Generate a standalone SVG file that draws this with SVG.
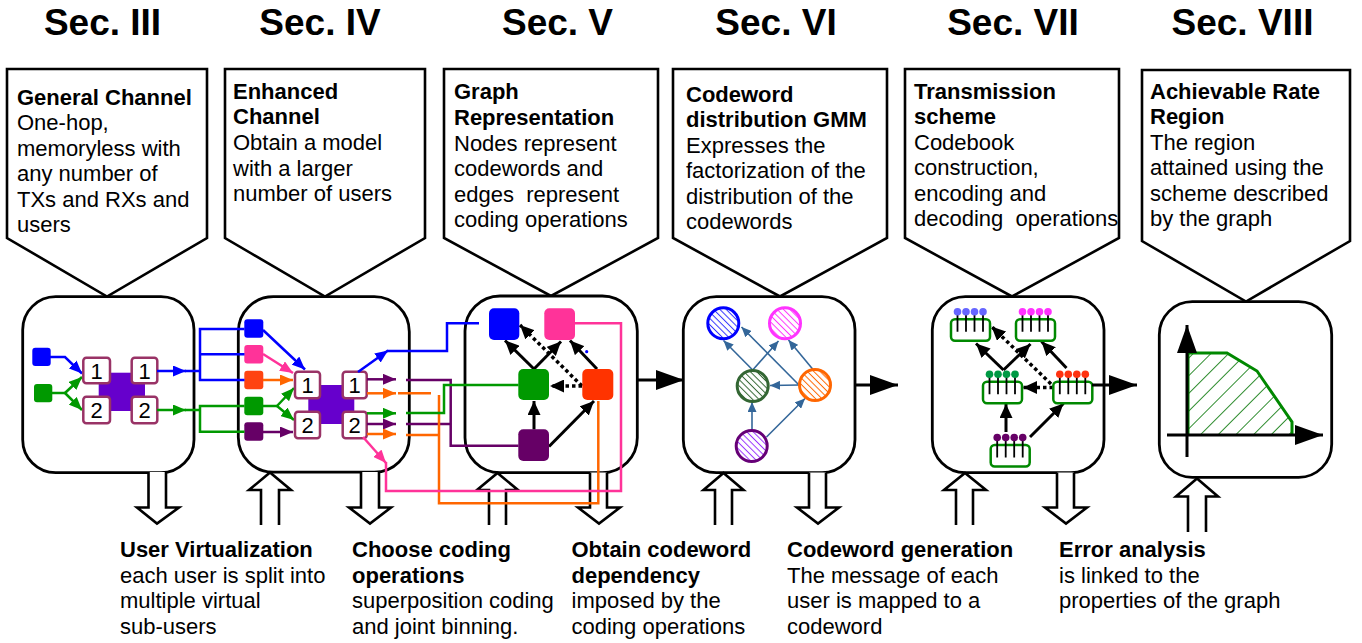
<svg xmlns="http://www.w3.org/2000/svg" xmlns:xlink="http://www.w3.org/1999/xlink" width="1362" height="643" viewBox="0 0 1362 643">
  <style>
    .title { font-family: "Liberation Sans", Arial, sans-serif; font-weight: bold; font-size: 37px; text-anchor: middle; fill: #000; }
    .t { font-family: "Liberation Sans", Arial, sans-serif; font-size: 22px; fill: #000; }
    .b { font-weight: bold; }
    .callout { fill: #fff; stroke: #000; stroke-width: 2.6; stroke-linejoin: miter; }
    .frame { fill: #fff; stroke: #000; stroke-width: 2.8; }
    .block { fill: #fff; stroke: #000; stroke-width: 2.6; stroke-linejoin: miter; }
    .num { fill: #fff; stroke: #993366; stroke-width: 2.5; }
    .numt { font-family: "Liberation Sans", Arial, sans-serif; font-size: 22px; text-anchor: middle; fill: #000; }
    .ln { fill: none; stroke-width: 2.5; stroke-linejoin: miter; }
    .blk { fill: none; stroke: #000; stroke-width: 3; }
    .dot { stroke-dasharray: 3.5 3; stroke-width: 3.5; }
    .gmm { fill: none; stroke: #336699; stroke-width: 1.6; }
  </style>
  <defs>
    <marker id="hBlue" markerUnits="userSpaceOnUse" markerWidth="14" markerHeight="11" refX="13" refY="5.5" orient="auto"><path d="M0,0 L13,5.5 L0,11 z" fill="#0000ff"/></marker>
    <marker id="hGreen" markerUnits="userSpaceOnUse" markerWidth="14" markerHeight="11" refX="13" refY="5.5" orient="auto"><path d="M0,0 L13,5.5 L0,11 z" fill="#009900"/></marker>
    <marker id="hPink" markerUnits="userSpaceOnUse" markerWidth="14" markerHeight="11" refX="13" refY="5.5" orient="auto"><path d="M0,0 L13,5.5 L0,11 z" fill="#ff3399"/></marker>
    <marker id="hOrange" markerUnits="userSpaceOnUse" markerWidth="14" markerHeight="11" refX="13" refY="5.5" orient="auto"><path d="M0,0 L13,5.5 L0,11 z" fill="#ff6600"/></marker>
    <marker id="hPurple" markerUnits="userSpaceOnUse" markerWidth="14" markerHeight="11" refX="13" refY="5.5" orient="auto"><path d="M0,0 L13,5.5 L0,11 z" fill="#660066"/></marker>
    <marker id="hBlack" markerUnits="userSpaceOnUse" markerWidth="15" markerHeight="13" refX="14" refY="6.5" orient="auto"><path d="M0,0 L14,6.5 L0,13 z" fill="#000"/></marker>
    <marker id="hSteel" markerUnits="userSpaceOnUse" markerWidth="11" markerHeight="9" refX="10" refY="4.5" orient="auto"><path d="M0,0 L10,4.5 L0,9 z" fill="#336699"/></marker>
    <marker id="hBig" markerUnits="userSpaceOnUse" markerWidth="29" markerHeight="20" refX="28" refY="10" orient="auto"><path d="M0,0 L28,10 L0,20 z" fill="#000"/></marker>

    <pattern id="hatchBlue" patternUnits="userSpaceOnUse" width="4.5" height="4.5" patternTransform="rotate(45)"><line x1="0" y1="2.25" x2="4.5" y2="2.25" stroke="#3333ff" stroke-width="1"/></pattern>
    <pattern id="hatchMagenta" patternUnits="userSpaceOnUse" width="4.5" height="4.5" patternTransform="rotate(45)"><line x1="0" y1="2.25" x2="4.5" y2="2.25" stroke="#ff33ff" stroke-width="1"/></pattern>
    <pattern id="hatchGreen" patternUnits="userSpaceOnUse" width="4.5" height="4.5" patternTransform="rotate(45)"><line x1="0" y1="2.25" x2="4.5" y2="2.25" stroke="#336633" stroke-width="1"/></pattern>
    <pattern id="hatchOrange" patternUnits="userSpaceOnUse" width="4.5" height="4.5" patternTransform="rotate(45)"><line x1="0" y1="2.25" x2="4.5" y2="2.25" stroke="#ff6600" stroke-width="1"/></pattern>
    <pattern id="hatchPurple" patternUnits="userSpaceOnUse" width="4.5" height="4.5" patternTransform="rotate(45)"><line x1="0" y1="2.25" x2="4.5" y2="2.25" stroke="#9933ff" stroke-width="1"/></pattern>
    <pattern id="hatchRegion" patternUnits="userSpaceOnUse" width="12.5" height="12.5" patternTransform="rotate(-45)"><line x1="0" y1="6.25" x2="12.5" y2="6.25" stroke="#2a8a2a" stroke-width="1"/></pattern>

    <!-- codebook: comb of codewords on a green frame; dot colour comes from the use element -->
    <g id="comb">
      <rect x="0" y="0" width="39" height="21.5" rx="4" fill="#fff" stroke="#008800" stroke-width="2.5"/>
      <path d="M6.5,-7.5 V12.5 M15,-7.5 V12.5 M23.5,-7.5 V12.5 M32,-7.5 V12.5" stroke="#000" stroke-width="1.8" fill="none"/>
      <g fill="currentColor">
        <circle cx="6.5" cy="-7.5" r="3.8"/>
        <circle cx="15" cy="-7.5" r="3.8"/>
        <circle cx="23.5" cy="-7.5" r="3.8"/>
        <circle cx="32" cy="-7.5" r="3.8"/>
      </g>
    </g>
  </defs>

  <rect width="1362" height="643" fill="#fff"/>

  <!-- section headings -->
  <g id="titles">
    <text class="title" x="102.5" y="35">Sec. III</text>
    <text class="title" x="320" y="35">Sec. IV</text>
    <text class="title" x="557.5" y="35">Sec. V</text>
    <text class="title" x="776" y="35">Sec. VI</text>
    <text class="title" x="1013" y="35">Sec. VII</text>
    <text class="title" x="1242.5" y="35">Sec. VIII</text>
  </g>

  <!-- description callouts -->
  <g id="callout-general-channel">
    <polygon class="callout" points="7,69 207,69 207,238 107,296.5 7,238"/>
    <text class="t" x="17"><tspan class="b" x="17" y="104.5">General Channel</tspan><tspan x="17" y="130">One-hop,</tspan><tspan x="17" y="155.5">memoryless with</tspan><tspan x="17" y="181">any number of</tspan><tspan x="17" y="206.5">TXs and RXs and</tspan><tspan x="17" y="232">users</tspan></text>
  </g>
  <g id="callout-enhanced-channel">
    <polygon class="callout" points="225,69 425,69 425,238 325,296.5 225,238"/>
    <text class="t"><tspan class="b" x="233" y="98.5">Enhanced</tspan><tspan class="b" x="233" y="124">Channel</tspan><tspan x="233" y="150">Obtain a model</tspan><tspan x="233" y="175.5">with a larger</tspan><tspan x="233" y="201">number of users</tspan></text>
  </g>
  <g id="callout-graph-representation">
    <polygon class="callout" points="444,69 658,69 658,238 551,296 444,238"/>
    <text class="t" xml:space="preserve"><tspan class="b" x="454" y="99">Graph</tspan><tspan class="b" x="454" y="125">Representation</tspan><tspan x="454" y="150.5">Nodes represent</tspan><tspan x="454" y="176">codewords and</tspan><tspan x="454" y="201.5">edges  represent</tspan><tspan x="454" y="227">coding operations</tspan></text>
  </g>
  <g id="callout-codeword-distribution">
    <polygon class="callout" points="673,69 887,69 887,238 780,296.5 673,238"/>
    <text class="t"><tspan class="b" x="686" y="101.5">Codeword</tspan><tspan class="b" x="686" y="127">distribution GMM</tspan><tspan x="686" y="152.5">Expresses the</tspan><tspan x="686" y="178">factorization of the</tspan><tspan x="686" y="203.5">distribution of the</tspan><tspan x="686" y="229">codewords</tspan></text>
  </g>
  <g id="callout-transmission-scheme">
    <polygon class="callout" points="905,69 1119,69 1119,238 1012,296.5 905,238"/>
    <text class="t" xml:space="preserve"><tspan class="b" x="914" y="98.5">Transmission</tspan><tspan class="b" x="914" y="124">scheme</tspan><tspan x="914" y="149.5">Codebook</tspan><tspan x="914" y="175">construction,</tspan><tspan x="914" y="200.5">encoding and</tspan><tspan x="914" y="226">decoding  operations</tspan></text>
  </g>
  <g id="callout-rate-region">
    <polygon class="callout" points="1142,70 1350,70 1350,241 1246,301.5 1142,241"/>
    <text class="t"><tspan class="b" x="1150" y="98.5">Achievable Rate</tspan><tspan class="b" x="1150" y="124">Region</tspan><tspan x="1150" y="149.5">The region</tspan><tspan x="1150" y="175">attained using the</tspan><tspan x="1150" y="200.5">scheme described</tspan><tspan x="1150" y="226">by the graph</tspan></text>
  </g>

  <!-- stage III: general channel -->
  <g id="stage-general-channel">
    <rect class="frame" x="22.7" y="296.7" width="171.3" height="176" rx="33"/>
    <rect x="98.7" y="372.7" width="46.3" height="38.3" fill="#6600cc"/>
    <rect x="32.3" y="347.7" width="18.4" height="18.3" rx="3" fill="#0000ff"/>
    <rect x="34" y="384" width="18.3" height="18.3" rx="3" fill="#009900"/>
    <path class="ln" stroke="#0000ff" d="M50,357 H65 L82,373.5" marker-end="url(#hBlue)"/>
    <path class="ln" stroke="#009900" d="M52,393 H65"/>
    <path class="ln" stroke="#009900" d="M65,393 L82,377" marker-end="url(#hGreen)"/>
    <path class="ln" stroke="#009900" d="M65,393 L82,410" marker-end="url(#hGreen)"/>
    <rect class="num" x="83.3" y="357.7" width="26.7" height="25.6" rx="3"/>
    <rect class="num" x="83.3" y="396.7" width="26.7" height="26.6" rx="3"/>
    <rect class="num" x="131.7" y="357.7" width="25.6" height="25.6" rx="3"/>
    <rect class="num" x="131.7" y="396.7" width="25.6" height="26.6" rx="3"/>
    <text class="numt" x="96.7" y="378.5">1</text>
    <text class="numt" x="96.7" y="418">2</text>
    <text class="numt" x="144.5" y="378.5">1</text>
    <text class="numt" x="144.5" y="418">2</text>
  </g>

  <!-- stage IV: enhanced channel with virtual sub-users -->
  <g id="stage-enhanced-channel">
    <rect class="frame" x="238.3" y="296.7" width="171" height="175.5" rx="35"/>
    <rect x="308.3" y="385" width="46" height="39" fill="#6600cc"/>
    <rect x="244.3" y="319.3" width="19" height="18.5" rx="3" fill="#0000ff"/>
    <rect x="244.3" y="345" width="19" height="18.5" rx="3" fill="#ff3399"/>
    <rect x="244.3" y="370.7" width="19" height="18.5" rx="3" fill="#ff4411"/>
    <rect x="244.3" y="396.7" width="19" height="18.5" rx="3" fill="#009900"/>
    <rect x="244.3" y="422.3" width="19" height="18.5" rx="3" fill="#660066"/>
    <path class="ln" stroke="#0000ff" d="M263,330 L305,369.5" marker-end="url(#hBlue)"/>
    <path class="ln" stroke="#ff3399" d="M263,354 L293,373" marker-end="url(#hPink)"/>
    <path class="ln" stroke="#ff6600" d="M263,380 H293" marker-end="url(#hOrange)"/>
    <path class="ln" stroke="#009900" d="M263,406 H277"/>
    <path class="ln" stroke="#009900" d="M277,406 L294,388" marker-end="url(#hGreen)"/>
    <path class="ln" stroke="#009900" d="M277,406 L294,420" marker-end="url(#hGreen)"/>
    <path class="ln" stroke="#660066" d="M263,432 H293" marker-end="url(#hPurple)"/>
    <rect class="num" x="295" y="371.7" width="25" height="26.6" rx="3"/>
    <rect class="num" x="295" y="411.7" width="25" height="26.6" rx="3"/>
    <rect class="num" x="342.7" y="371.7" width="24" height="26.6" rx="3"/>
    <rect class="num" x="342.7" y="411.7" width="24" height="26.6" rx="3"/>
    <text class="numt" x="307.5" y="393">1</text>
    <text class="numt" x="307.5" y="433">2</text>
    <text class="numt" x="354.7" y="393">1</text>
    <text class="numt" x="354.7" y="433">2</text>
    <path class="ln" stroke="#0000ff" d="M358,372 L388,350.5" marker-end="url(#hBlue)"/>
    <path class="ln" stroke="#660066" d="M367,379.3 H396" marker-end="url(#hPurple)"/>
    <path class="ln" stroke="#ff6600" d="M367,393.3 H396" marker-end="url(#hOrange)"/>
    <path class="ln" stroke="#009900" d="M367,413.3 H396" marker-end="url(#hGreen)"/>
    <path class="ln" stroke="#660066" d="M367,424 H396" marker-end="url(#hPurple)"/>
    <path class="ln" stroke="#ff6600" d="M367,434 H396" marker-end="url(#hOrange)"/>
    <path class="ln" stroke="#ff3399" d="M363,437 L386,463" marker-end="url(#hPink)"/>
  </g>

  <!-- stage V: graph of codewords -->
  <g id="stage-graph">
    <rect class="frame" x="465" y="296" width="172.3" height="176.7" rx="35"/>
    <g id="graph-edges">
      <path class="blk" d="M534,369 L505,340.5" marker-end="url(#hBlack)"/>
      <path class="blk" d="M534,369 L561,341.5" marker-end="url(#hBlack)"/>
      <path class="blk" d="M597,369 L570,340.5" marker-end="url(#hBlack)"/>
      <path class="blk dot" d="M582,386 L520,325" marker-end="url(#hBlack)"/>
      <path class="blk dot" d="M582,386 L550,386" marker-end="url(#hBlack)"/>
      <path class="blk" d="M534,429.5 V401" marker-end="url(#hBlack)"/>
      <path class="blk" d="M549,446.5 L594,401" marker-end="url(#hBlack)"/>
    </g>
    <rect x="489" y="308.3" width="30.3" height="31.7" rx="5" fill="#0000ff"/>
    <rect x="544.3" y="308.3" width="30.7" height="31.7" rx="5" fill="#ff3399"/>
    <rect x="518.3" y="369" width="30.7" height="31" rx="5" fill="#009900"/>
    <rect x="582.3" y="369" width="31" height="31" rx="5" fill="#ff3300"/>
    <rect x="518.3" y="429.3" width="30.7" height="31.7" rx="5" fill="#660066"/>
    <circle cx="586.7" cy="351.7" r="1.6" fill="#0000ff"/>
  </g>

  <!-- stage VI: codeword distribution -->
  <g id="stage-distribution">
    <rect class="frame" x="683.3" y="296.7" width="171.7" height="176" rx="33"/>
    <g id="gmm-edges">
      <path class="gmm" d="M752.7,370 L723.5,340.5" marker-end="url(#hSteel)"/>
      <path class="gmm" d="M752.7,370 L778.5,341" marker-end="url(#hSteel)"/>
      <path class="gmm" d="M799,385 L741.5,327" marker-end="url(#hSteel)"/>
      <path class="gmm" d="M813,369.5 L788.5,340" marker-end="url(#hSteel)"/>
      <path class="gmm" d="M799.5,385 L770,385.5" marker-end="url(#hSteel)"/>
      <path class="gmm" d="M752,430 V402" marker-end="url(#hSteel)"/>
      <path class="gmm" d="M766.5,437 L805,398.5" marker-end="url(#hSteel)"/>
    </g>
    <circle cx="723.3" cy="323.3" r="15.5" fill="url(#hatchBlue)" stroke="#0000ff" stroke-width="3"/>
    <circle cx="785" cy="323.3" r="15.5" fill="url(#hatchMagenta)" stroke="#ff33ff" stroke-width="3"/>
    <circle cx="752.7" cy="386" r="15.5" fill="url(#hatchGreen)" stroke="#336633" stroke-width="3"/>
    <circle cx="815" cy="385" r="15.5" fill="url(#hatchOrange)" stroke="#ff6600" stroke-width="3"/>
    <circle cx="751.7" cy="446" r="15.5" fill="url(#hatchPurple)" stroke="#660077" stroke-width="3"/>
  </g>

  <!-- stage VII: transmission scheme codebooks -->
  <g id="stage-transmission">
    <rect class="frame" x="932.3" y="296.7" width="171.7" height="176" rx="33"/>
    <g id="codebook-edges">
      <path class="blk" d="M1003.5,370 L976,343.5" marker-end="url(#hBlack)"/>
      <path class="blk" d="M1003.5,370 L1030.5,344" marker-end="url(#hBlack)"/>
      <path class="blk" d="M1066.5,368 L1041.5,341.5" marker-end="url(#hBlack)"/>
      <path class="blk dot" d="M1051,384 L991.5,326.5" marker-end="url(#hBlack)"/>
      <path class="blk dot" d="M1053,387.5 L1023,387.5" marker-end="url(#hBlack)"/>
      <path class="blk" d="M1006,432 V404" marker-end="url(#hBlack)"/>
      <path class="blk" d="M1030,437 L1063.5,403.5" marker-end="url(#hBlack)"/>
    </g>
    <use href="#comb" xlink:href="#comb" transform="translate(951,319.3)" style="color:#6666ff"/>
    <use href="#comb" xlink:href="#comb" transform="translate(1016,319.3)" style="color:#ff33ff"/>
    <use href="#comb" xlink:href="#comb" transform="translate(983,381.7)" style="color:#009944"/>
    <use href="#comb" xlink:href="#comb" transform="translate(1053.3,381.7)" style="color:#ff3311"/>
    <use href="#comb" xlink:href="#comb" transform="translate(990.7,445)" style="color:#660066"/>
  </g>

  <!-- stage VIII: achievable rate region -->
  <g id="stage-rate-region">
    <rect class="frame" x="1159.3" y="301.7" width="172.4" height="175.6" rx="33"/>
    <polygon points="1188,353 1227,353 1257,371 1292,422 1292,435 1188,435" fill="url(#hatchRegion)"/>
    <polyline points="1188,435 1188,353 1227,353 1257,371 1292,422 1292,435" fill="none" stroke="#008800" stroke-width="3"/>
    <path d="M1187,457 V325" stroke="#000" stroke-width="3" marker-end="url(#hBig)"/>
    <path d="M1167,435 H1323" stroke="#000" stroke-width="3" marker-end="url(#hBig)"/>
  </g>

  <!-- hollow block arrows between stages and the notes below -->
  <g id="block-arrows">
    <path class="block" d="M148.5,472 V507.5 H137 L157,523.5 L179,507.5 H166 V472"/>
    <path class="block" d="M361,472 V507.5 H349 L370,523.5 L391,507.5 H379 V472"/>
    <path class="block" d="M590,472.5 V507.5 H578 L599,523.5 L620,507.5 H607 V472.5"/>
    <path class="block" d="M809,472.5 V507.5 H797 L818,523.5 L839,507.5 H826 V472.5"/>
    <path class="block" d="M1057,472.5 V507.5 H1045 L1066,523.5 L1087,507.5 H1074 V472.5"/>
    <path class="block" d="M261,525 V490 H249 L270,472.5 L291,490 H279 V525"/>
    <path class="block" d="M489,525 V490 H477 L497.5,473 L518,490 H506 V525"/>
    <path class="block" d="M715,525 V490 H703.5 L723.5,473 L743.5,490 H732 V525"/>
    <path class="block" d="M956,525 V490 H944 L965,473 L986,490 H973 V525"/>
    <path class="block" d="M1188,532 V496.5 H1176 L1197,478.5 L1218,496.5 H1206 V532"/>
  </g>

  <!-- signal routing between stages -->
  <g id="connectors">
    <path class="ln" stroke="#0000ff" d="M157,371 H186" marker-end="url(#hBlue)"/>
    <path class="ln" stroke="#0000ff" d="M185,371 H200"/>
    <path class="ln" stroke="#0000ff" d="M244.5,329 H200 V380 H244.5 M200,354.3 H244.5"/>
    <path class="ln" stroke="#009900" d="M157,410 H186" marker-end="url(#hGreen)"/>
    <path class="ln" stroke="#009900" d="M185,410 H200"/>
    <path class="ln" stroke="#009900" d="M244.5,406 H200 V431.7 H244.5"/>

    <path class="ln" stroke="#0000ff" d="M387,351 H447 V323.3 H479"/>
    <path class="ln" stroke="#660066" d="M406,380 H450.7 V445.7 H518.5 M406,424 H450.7"/>
    <path class="ln" stroke="#ff6600" d="M398,393.3 H431 M406,435 H439 M439,395 V503.3 H598.3 V401"/>
    <path class="ln" stroke="#009900" d="M406,413 H444 V385 H518.5"/>
    <path class="ln" stroke="#ff3399" d="M386,462 V491 H621 V323.3 H575"/>

    <path d="M637.5,380 H684" stroke="#000" stroke-width="3" marker-end="url(#hBig)"/>
    <path d="M855,385 H898" stroke="#000" stroke-width="3" marker-end="url(#hBig)"/>
    <path d="M1092,385 H1137" stroke="#000" stroke-width="3" marker-end="url(#hBig)"/>
  </g>

  <!-- operations between stages -->
  <g id="note-user-virtualization">
    <text class="t"><tspan class="b" x="120" y="557">User Virtualization</tspan><tspan x="120" y="582.5">each user is split into</tspan><tspan x="120" y="608">multiple virtual</tspan><tspan x="120" y="633.5">sub-users</tspan></text>
  </g>
  <g id="note-coding-operations">
    <text class="t"><tspan class="b" x="352" y="557">Choose coding</tspan><tspan class="b" x="352" y="582.5">operations</tspan><tspan x="352" y="608">superposition coding</tspan><tspan x="352" y="633.5">and joint binning.</tspan></text>
  </g>
  <g id="note-codeword-dependency">
    <text class="t"><tspan class="b" x="571.5" y="557">Obtain codeword</tspan><tspan class="b" x="571.5" y="582.5">dependency</tspan><tspan x="571.5" y="608">imposed by the</tspan><tspan x="571.5" y="633.5">coding operations</tspan></text>
  </g>
  <g id="note-codeword-generation">
    <text class="t"><tspan class="b" x="787" y="557">Codeword generation</tspan><tspan x="787" y="582.5">The message of each</tspan><tspan x="787" y="608">user is mapped to a</tspan><tspan x="787" y="633.5">codeword</tspan></text>
  </g>
  <g id="note-error-analysis">
    <text class="t"><tspan class="b" x="1059" y="557">Error analysis</tspan><tspan x="1059" y="582.5">is linked to the</tspan><tspan x="1059" y="608">properties of the graph</tspan></text>
  </g>
</svg>
